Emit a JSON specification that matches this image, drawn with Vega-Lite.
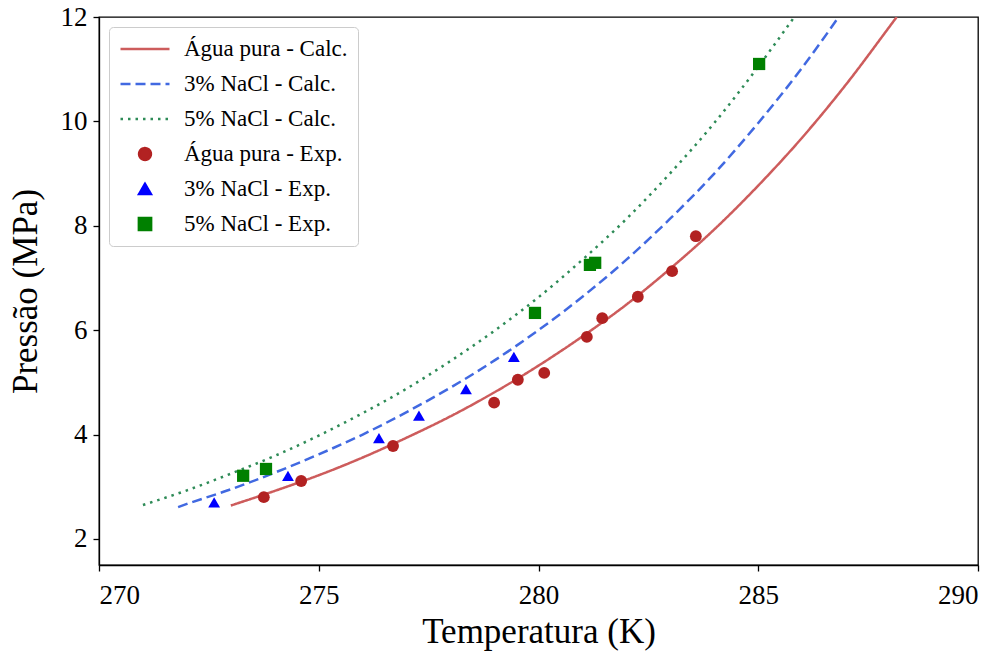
{
  "$schema": "https://vega.github.io/schema/vega-lite/v6.json",
  "width": 879,
  "height": 548,
  "autosize": "none",
  "padding": {"left": 99, "top": 17, "right": 29, "bottom": 90},
  "background": "white",
  "data": {
    "values": [
      {"T": 273.0, "P": 2.64, "series": "Água pura - Calc.", "kind": "calc"},
      {"T": 274, "P": 2.92, "series": "Água pura - Calc.", "kind": "calc"},
      {"T": 275, "P": 3.22, "series": "Água pura - Calc.", "kind": "calc"},
      {"T": 276, "P": 3.56, "series": "Água pura - Calc.", "kind": "calc"},
      {"T": 277, "P": 3.94, "series": "Água pura - Calc.", "kind": "calc"},
      {"T": 278, "P": 4.35, "series": "Água pura - Calc.", "kind": "calc"},
      {"T": 279, "P": 4.81, "series": "Água pura - Calc.", "kind": "calc"},
      {"T": 280, "P": 5.32, "series": "Água pura - Calc.", "kind": "calc"},
      {"T": 281, "P": 5.88, "series": "Água pura - Calc.", "kind": "calc"},
      {"T": 282, "P": 6.49, "series": "Água pura - Calc.", "kind": "calc"},
      {"T": 283, "P": 7.18, "series": "Água pura - Calc.", "kind": "calc"},
      {"T": 284, "P": 7.93, "series": "Água pura - Calc.", "kind": "calc"},
      {"T": 285, "P": 8.77, "series": "Água pura - Calc.", "kind": "calc"},
      {"T": 286, "P": 9.69, "series": "Água pura - Calc.", "kind": "calc"},
      {"T": 287, "P": 10.71, "series": "Água pura - Calc.", "kind": "calc"},
      {"T": 288, "P": 11.83, "series": "Água pura - Calc.", "kind": "calc"},
      {"T": 288.15, "P": 12.0, "series": "Água pura - Calc.", "kind": "calc"},

      {"T": 271.8, "P": 2.61, "series": "3% NaCl - Calc.", "kind": "calc"},
      {"T": 272, "P": 2.67, "series": "3% NaCl - Calc.", "kind": "calc"},
      {"T": 273, "P": 2.95, "series": "3% NaCl - Calc.", "kind": "calc"},
      {"T": 274, "P": 3.27, "series": "3% NaCl - Calc.", "kind": "calc"},
      {"T": 275, "P": 3.62, "series": "3% NaCl - Calc.", "kind": "calc"},
      {"T": 276, "P": 4.00, "series": "3% NaCl - Calc.", "kind": "calc"},
      {"T": 277, "P": 4.43, "series": "3% NaCl - Calc.", "kind": "calc"},
      {"T": 278, "P": 4.90, "series": "3% NaCl - Calc.", "kind": "calc"},
      {"T": 279, "P": 5.42, "series": "3% NaCl - Calc.", "kind": "calc"},
      {"T": 280, "P": 6.00, "series": "3% NaCl - Calc.", "kind": "calc"},
      {"T": 281, "P": 6.64, "series": "3% NaCl - Calc.", "kind": "calc"},
      {"T": 282, "P": 7.35, "series": "3% NaCl - Calc.", "kind": "calc"},
      {"T": 283, "P": 8.14, "series": "3% NaCl - Calc.", "kind": "calc"},
      {"T": 284, "P": 9.00, "series": "3% NaCl - Calc.", "kind": "calc"},
      {"T": 285, "P": 9.97, "series": "3% NaCl - Calc.", "kind": "calc"},
      {"T": 286, "P": 11.03, "series": "3% NaCl - Calc.", "kind": "calc"},
      {"T": 286.83, "P": 12.0, "series": "3% NaCl - Calc.", "kind": "calc"},

      {"T": 271.0, "P": 2.65, "series": "5% NaCl - Calc.", "kind": "calc"},
      {"T": 272, "P": 2.93, "series": "5% NaCl - Calc.", "kind": "calc"},
      {"T": 273, "P": 3.25, "series": "5% NaCl - Calc.", "kind": "calc"},
      {"T": 274, "P": 3.59, "series": "5% NaCl - Calc.", "kind": "calc"},
      {"T": 275, "P": 3.98, "series": "5% NaCl - Calc.", "kind": "calc"},
      {"T": 276, "P": 4.41, "series": "5% NaCl - Calc.", "kind": "calc"},
      {"T": 277, "P": 4.88, "series": "5% NaCl - Calc.", "kind": "calc"},
      {"T": 278, "P": 5.41, "series": "5% NaCl - Calc.", "kind": "calc"},
      {"T": 279, "P": 5.99, "series": "5% NaCl - Calc.", "kind": "calc"},
      {"T": 280, "P": 6.63, "series": "5% NaCl - Calc.", "kind": "calc"},
      {"T": 281, "P": 7.35, "series": "5% NaCl - Calc.", "kind": "calc"},
      {"T": 282, "P": 8.13, "series": "5% NaCl - Calc.", "kind": "calc"},
      {"T": 283, "P": 9.01, "series": "5% NaCl - Calc.", "kind": "calc"},
      {"T": 284, "P": 9.97, "series": "5% NaCl - Calc.", "kind": "calc"},
      {"T": 285, "P": 11.05, "series": "5% NaCl - Calc.", "kind": "calc"},
      {"T": 285.82, "P": 12.0, "series": "5% NaCl - Calc.", "kind": "calc"},

      {"T": 273.75, "P": 2.80, "series": "Água pura - Exp.", "kind": "exp"},
      {"T": 274.60, "P": 3.11, "series": "Água pura - Exp.", "kind": "exp"},
      {"T": 276.69, "P": 3.78, "series": "Água pura - Exp.", "kind": "exp"},
      {"T": 278.99, "P": 4.61, "series": "Água pura - Exp.", "kind": "exp"},
      {"T": 279.53, "P": 5.05, "series": "Água pura - Exp.", "kind": "exp"},
      {"T": 280.13, "P": 5.18, "series": "Água pura - Exp.", "kind": "exp"},
      {"T": 281.10, "P": 5.87, "series": "Água pura - Exp.", "kind": "exp"},
      {"T": 281.45, "P": 6.23, "series": "Água pura - Exp.", "kind": "exp"},
      {"T": 282.26, "P": 6.64, "series": "Água pura - Exp.", "kind": "exp"},
      {"T": 283.04, "P": 7.13, "series": "Água pura - Exp.", "kind": "exp"},
      {"T": 283.58, "P": 7.80, "series": "Água pura - Exp.", "kind": "exp"},

      {"T": 272.62, "P": 2.70, "series": "3% NaCl - Exp.", "kind": "exp"},
      {"T": 274.30, "P": 3.21, "series": "3% NaCl - Exp.", "kind": "exp"},
      {"T": 276.37, "P": 3.93, "series": "3% NaCl - Exp.", "kind": "exp"},
      {"T": 277.28, "P": 4.36, "series": "3% NaCl - Exp.", "kind": "exp"},
      {"T": 278.35, "P": 4.87, "series": "3% NaCl - Exp.", "kind": "exp"},
      {"T": 279.44, "P": 5.49, "series": "3% NaCl - Exp.", "kind": "exp"},

      {"T": 273.28, "P": 3.21, "series": "5% NaCl - Exp.", "kind": "exp"},
      {"T": 273.80, "P": 3.34, "series": "5% NaCl - Exp.", "kind": "exp"},
      {"T": 279.92, "P": 6.33, "series": "5% NaCl - Exp.", "kind": "exp"},
      {"T": 281.17, "P": 7.25, "series": "5% NaCl - Exp.", "kind": "exp"},
      {"T": 281.29, "P": 7.29, "series": "5% NaCl - Exp.", "kind": "exp"},
      {"T": 285.02, "P": 11.10, "series": "5% NaCl - Exp.", "kind": "exp"}
    ]
  },
  "encoding": {
    "x": {
      "field": "T", "type": "quantitative",
      "scale": {"domain": [270, 290], "nice": false, "zero": false},
      "axis": {"values": [270, 275, 280, 285, 290], "title": "Temperatura (K)", "titlePadding": 6, "labelPadding": 11}
    },
    "y": {
      "field": "P", "type": "quantitative",
      "scale": {"domain": [1.5, 12], "nice": false, "zero": false},
      "axis": {"values": [2, 4, 6, 8, 10, 12], "title": "Pressão (MPa)", "titlePadding": 17}
    }
  },
  "layer": [
    {
      "transform": [{"filter": "datum.kind == 'calc'"}],
      "mark": {"type": "line", "strokeWidth": 2.5, "clip": true, "interpolate": "monotone"},
      "encoding": {
        "color": {
          "field": "series", "type": "nominal",
          "scale": {
            "domain": ["Água pura - Calc.", "3% NaCl - Calc.", "5% NaCl - Calc.", "Água pura - Exp.", "3% NaCl - Exp.", "5% NaCl - Exp."],
            "range": ["#cd5c5c", "#4169e1", "#2e8b57", "#b22222", "#0000ff", "#008000"]
          },
          "legend": {
            "title": null,
            "orient": "top-left",
            "offset": 10,
            "padding": 10,
            "labelOffset": 13,
            "labelLimit": 400,
            "clipHeight": 24,
            "symbolStrokeWidth": 2.5,
            "encode": {
              "symbols": {
                "update": {
                  "fill": {"value": {"expr": "scale('color', datum.value)"}},
                  "stroke": {"value": {"expr": "scale('color', datum.value)"}},
                  "opacity": {"value": 1}
                }
              }
            }
          }
        },
        "strokeDash": {
          "field": "series", "type": "nominal",
          "scale": {
            "domain": ["Água pura - Calc.", "3% NaCl - Calc.", "5% NaCl - Calc.", "Água pura - Exp.", "3% NaCl - Exp.", "5% NaCl - Exp."],
            "range": [[1, 0], [10, 5], [2.5, 5], [1, 0], [1, 0], [1, 0]]
          }
        }
      }
    },
    {
      "transform": [{"filter": "datum.kind == 'exp'"}],
      "mark": {"type": "point", "filled": true, "opacity": 1, "clip": true},
      "encoding": {
        "color": {"field": "series", "type": "nominal"},
        "shape": {
          "field": "series", "type": "nominal",
          "scale": {
            "domain": ["Água pura - Calc.", "3% NaCl - Calc.", "5% NaCl - Calc.", "Água pura - Exp.", "3% NaCl - Exp.", "5% NaCl - Exp."],
            "range": ["stroke", "stroke", "stroke", "circle", "triangle-up", "square"]
          }
        },
        "size": {
          "field": "series", "type": "nominal",
          "scale": {
            "type": "ordinal",
            "domain": ["Água pura - Calc.", "3% NaCl - Calc.", "5% NaCl - Calc.", "Água pura - Exp.", "3% NaCl - Exp.", "5% NaCl - Exp."],
            "range": [2400, 2400, 2400, 140, 140, 150]
          }
        }
      }
    }
  ],
  "config": {
    "font": "Liberation Serif",
    "view": {"stroke": "black", "strokeWidth": 1.3},
    "axis": {
      "grid": false,
      "domainColor": "black",
      "domainWidth": 1.3,
      "tickColor": "black",
      "tickSize": 6,
      "tickWidth": 1.3,
      "labelFont": "Liberation Serif",
      "labelFontSize": 27,
      "labelColor": "black",
      "labelPadding": 6,
      "titleFont": "Liberation Serif",
      "titleFontSize": 35,
      "titleFontWeight": "normal",
      "titleColor": "black"
    },
    "legend": {
      "labelFont": "Liberation Serif",
      "labelFontSize": 23,
      "labelColor": "black",
      "rowPadding": 11,
      "fillColor": "white",
      "strokeColor": "#cccccc",
      "cornerRadius": 4
    }
  }
}
